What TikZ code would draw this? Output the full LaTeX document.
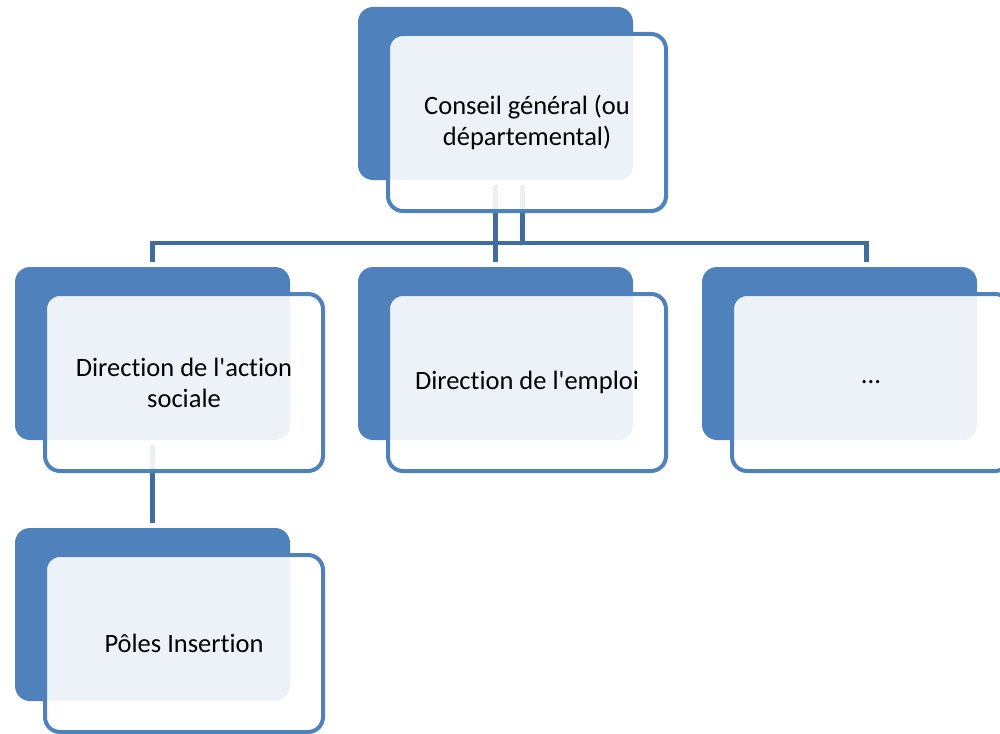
\documentclass[tikz,border=0pt]{standalone}
\usepackage{fontspec}
\setmainfont{Carlito}[Ligatures={NoCommon}]
\usetikzlibrary{positioning}
\definecolor{boxblue}{RGB}{79,129,189}
\definecolor{linkblue}{RGB}{64,108,160}

\begin{document}
\begin{tikzpicture}[x=1pt, y=-1pt,
    back/.style={rectangle, rounded corners=15pt, fill=boxblue,
        minimum width=275pt, minimum height=173pt, inner sep=0pt, outer sep=0pt},
    front/.style={rectangle, rounded corners=15pt, draw=boxblue, line width=4pt,
        fill=white, fill opacity=0.9, text opacity=1,
        minimum width=278pt, minimum height=177pt, inner sep=0pt, outer sep=0pt,
        align=center, font=\fontsize{26.5}{31}\selectfont},
    link/.style={draw=linkblue, line width=4.5pt}]
    \useasboundingbox (0,0) rectangle (1000,733);

    % back boxes
    \node[back] (cgb) at (495.5,93.5) {};
    \node[back, below=87pt of cgb] (empb) {};
    \node[back, left=68pt of empb] (asb) {};
    \node[back, right=69pt of empb] (autb) {};
    \node[back, below=88pt of asb] (pib) {};

    % connectors
    \coordinate[below=63pt of cgb.south] (bar);
    \draw[link] ([yshift=-5pt]cgb.south) -- ([yshift=5pt]empb.north);
    \draw[link] ([xshift=27pt, yshift=-5pt]cgb.south) -- ([xshift=27pt]bar);
    \draw[link] ([yshift=5pt]asb.north) |- (bar) -| ([xshift=27pt, yshift=5pt]autb.north);
    \draw[link] ([yshift=-5pt]asb.south) -- ([yshift=5pt]pib.north);

    % front boxes
    \node[front] (cg) at ([shift={(31.5,29)}]cgb.center) {Conseil général (ou\\départemental)};
    \node[front] (emp) at ([shift={(31.5,29)}]empb.center) {Direction de l\textquotesingle emploi};
    \node[front] (as) at ([shift={(31.5,29)}]asb.center) {Direction de l\textquotesingle action\\sociale};
    \node[front] (aut) at ([shift={(31.5,29)}]autb.center) {...};
    \node[front] (pi) at ([shift={(31.5,29)}]pib.center) {Pôles Insertion};
\end{tikzpicture}
\end{document}
